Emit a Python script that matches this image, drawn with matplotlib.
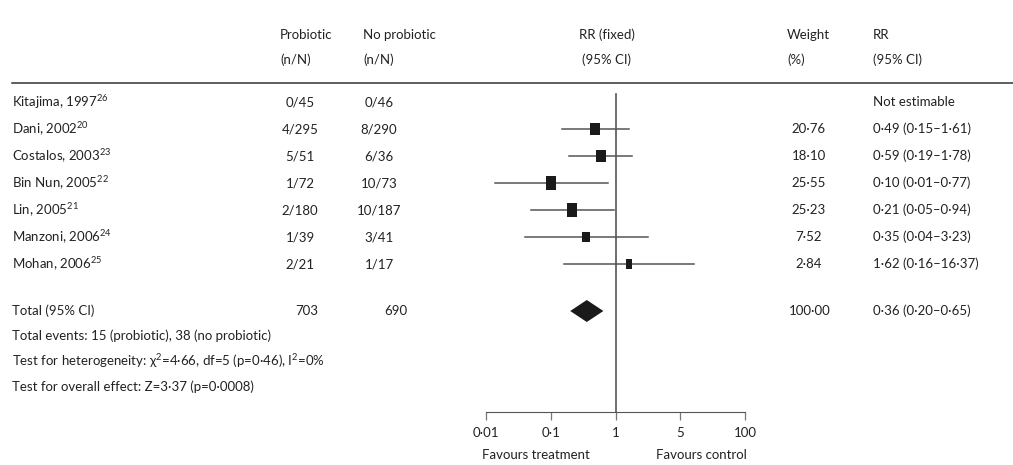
import numpy as np
import matplotlib
matplotlib.use("Agg")
import matplotlib.pyplot as plt

plt.rcParams["font.family"] = ["Lato", "DejaVu Sans"]
plt.rcParams["mathtext.fontset"] = "custom"
plt.rcParams["mathtext.rm"] = "Lato"

studies = ["Kitajima, 1997", "Dani, 2002", "Costalos, 2003", "Bin Nun, 2005",
           "Lin, 2005", "Manzoni, 2006", "Mohan, 2006"]
refs = ["26", "20", "23", "22", "21", "24", "25"]
probiotic = ["0/45", "4/295", "5/51", "1/72", "2/180", "1/39", "2/21"]
no_probiotic = ["0/46", "8/290", "6/36", "10/73", "10/187", "3/41", "1/17"]
rr = [np.nan, 0.49, 0.59, 0.10, 0.21, 0.35, 1.62]
rr_lo = [np.nan, 0.15, 0.19, 0.014, 0.05, 0.04, 0.16]
rr_hi = [np.nan, 1.61, 1.78, 0.77, 0.94, 3.23, 16.37]
weight = [np.nan, 20.76, 18.10, 25.55, 25.23, 7.52, 2.84]

total_n = ["703", "690"]
total_rr, total_lo, total_hi = 0.36, 0.20, 0.65
total_weight = 100.00
notes = ["Total events: 15 (probiotic), 38 (no probiotic)",
         "Test for heterogeneity: χ$^{\\mathrm{2}}$=4·66, df=5 (p=0·46), I$^{\\mathrm{2}}$=0%",
         "Test for overall effect: Z=3·37 (p=0·0008)"]

tick_vals = [0.01, 0.1, 1, 10, 100]
tick_labels = ["0·01", "0·1", "1", "5", "100"]


def dot(s):
    return s.replace(".", "·")


W, H = 1013, 465
fig = plt.figure(figsize=(W / 100, H / 100), dpi=100)

# text layer in pixel coords
tx = fig.add_axes([0, 0, 1, 1])
tx.set_xlim(0, W)
tx.set_ylim(H, 0)
tx.axis("off")

# forest plot axes, log scale, same vertical pixel coords
x0, x1 = 486, 745
ax = fig.add_axes([x0 / W, 0, (x1 - x0) / W, 1])
ax.set_xscale("log")
ax.set_xlim(0.01, 100)
ax.set_ylim(H, 0)
ax.patch.set_alpha(0)
for s in ["top", "left", "right"]:
    ax.spines[s].set_visible(False)

txt = "#222222"
fs = 9.5

# header
hy1, hy2 = 35, 60
tx.text(280, hy1, "Probiotic", fontsize=fs, color=txt, va="center")
tx.text(280, hy2, "(n/N)", fontsize=fs, color=txt, va="center")
tx.text(363, hy1, "No probiotic", fontsize=fs, color=txt, va="center")
tx.text(363, hy2, "(n/N)", fontsize=fs, color=txt, va="center")
tx.text(607, hy1, "RR (fixed)", fontsize=fs, color=txt, va="center", ha="center")
tx.text(607, hy2, "(95% CI)", fontsize=fs, color=txt, va="center", ha="center")
tx.text(787, hy1, "Weight", fontsize=fs, color=txt, va="center")
tx.text(787, hy2, "(%)", fontsize=fs, color=txt, va="center")
tx.text(873, hy1, "RR", fontsize=fs, color=txt, va="center")
tx.text(873, hy2, "(95% CI)", fontsize=fs, color=txt, va="center")
tx.plot([12, W], [83, 83], color="#333333", lw=1.1)

# study rows
row0, step = 102, 27
for i, name in enumerate(studies):
    y = row0 + i * step
    tx.text(12, y, name + "$^{\\mathrm{" + refs[i] + "}}$", fontsize=fs, color=txt, va="center")
    tx.text(300, y, probiotic[i], fontsize=fs, color=txt, va="center", ha="center")
    tx.text(379, y, no_probiotic[i], fontsize=fs, color=txt, va="center", ha="center")
    if np.isnan(rr[i]):
        tx.text(873, y, "Not estimable", fontsize=fs, color=txt, va="center")
        continue
    tx.text(809, y, dot(f"{weight[i]:.2f}"), fontsize=fs, color=txt, va="center", ha="center")
    tx.text(873, y, dot(f"{rr[i]:.2f} ({rr_lo[i]:.2f}–{rr_hi[i]:.2f})"),
            fontsize=fs, color=txt, va="center")
    ax.plot([rr_lo[i], rr_hi[i]], [y, y], color="#555555", lw=1.1, zorder=2)
    sw = 4 + 1.2 * np.sqrt(weight[i])
    sh = 8.5 + 0.9 * np.sqrt(weight[i])
    verts = [(-sw / 2, -sh / 2), (sw / 2, -sh / 2), (sw / 2, sh / 2), (-sw / 2, sh / 2), (-sw / 2, -sh / 2)]
    ax.plot(rr[i], y, marker=verts, markersize=max(sw, sh) * 0.72,
            color="#1a1a1a", markeredgewidth=0, zorder=3)

# total row
ty = 311
tx.text(12, ty, "Total (95% CI)", fontsize=fs, color=txt, va="center")
tx.text(307, ty, total_n[0], fontsize=fs, color=txt, va="center", ha="center")
tx.text(396, ty, total_n[1], fontsize=fs, color=txt, va="center", ha="center")
tx.text(810, ty, dot(f"{total_weight:.2f}"), fontsize=fs, color=txt, va="center", ha="center")
tx.text(873, ty, dot(f"{total_rr:.2f} ({total_lo:.2f}–{total_hi:.2f})"),
        fontsize=fs, color=txt, va="center")
ax.fill([total_lo, total_rr, total_hi, total_rr], [ty, ty - 11, ty, ty + 11],
        color="#1a1a1a", lw=0, zorder=3)

for j, note in enumerate(notes):
    tx.text(12, 336 + j * 25.5, note, fontsize=fs, color=txt, va="center")

# no-effect line and axis
axis_y = 412
ax.plot([1, 1], [94, axis_y], color="#555555", lw=1.2, zorder=1)
ax.spines["bottom"].set_position(("data", axis_y))
ax.spines["bottom"].set_color("#555555")
ax.set_xticks(tick_vals)
ax.set_xticklabels(tick_labels)
ax.minorticks_off()
ax.tick_params(axis="x", direction="out", length=6, width=0.9, color="#777777",
               labelsize=fs, labelcolor=txt, pad=5)
ax.set_yticks([])

tx.text(536, 455, "Favours treatment", fontsize=fs, color=txt, va="center", ha="center")
tx.text(701, 455, "Favours control", fontsize=fs, color=txt, va="center", ha="center")

fig.savefig("out.png", dpi=100)
